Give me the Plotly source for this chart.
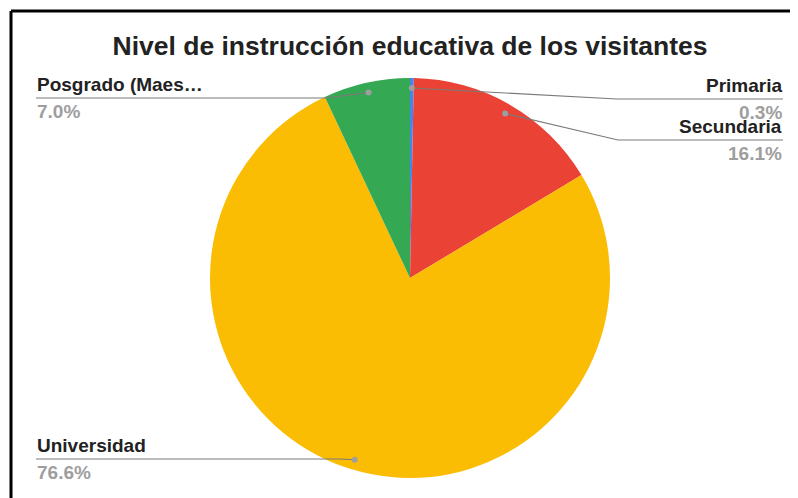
"""Pie chart: education level of visitors (Google Sheets look)."""

import math

import plotly.graph_objects as go

W, H = 798, 498
OFF = 8  # page body margin that shifts the plot inside the window

CATEGORIES = ["Primaria", "Secundaria", "Universidad", "Posgrado (Maestría/Doctorado)"]
DISPLAY_LABELS = ["Primaria", "Secundaria", "Universidad", "Posgrado (Maes…"]
VALUES = [0.3, 16.1, 76.6, 7.0]
COLORS = ["#4285F4", "#EA4335", "#FBBC04", "#34A853"]

# label placement: side, elbow x, line y, end x (window pixels)
LEADERS = [
    ("right", 617, 99, 783),
    ("right", 618, 140, 783),
    ("left", 340, 459, 36),
    ("left", 325, 98, 36),
]

CX, CY, R = 410, 278, 200
FONT = "Liberation Sans, Arial, sans-serif"


def px(x):
    return (x - OFF) / W


def py(y):
    return 1 - (y - OFF) / H


fig = go.Figure(
    go.Pie(
        labels=CATEGORIES,
        values=VALUES,
        sort=False,
        direction="clockwise",
        rotation=0,
        marker=dict(colors=COLORS, line=dict(width=0)),
        textinfo="none",
        hoverinfo="label+percent",
        showlegend=False,
        domain=dict(x=[px(CX - R), px(CX + R)], y=[py(CY + R), py(CY - R)]),
    )
)

shapes = []
annotations = []
total = sum(VALUES)
cum = 0.0
for name, val, (side, ex, ly, endx) in zip(DISPLAY_LABELS, VALUES, LEADERS):
    mid = (cum + val / 2) / total * 2 * math.pi
    cum += val
    dx = CX + 0.95 * R * math.sin(mid)
    dy = CY - 0.95 * R * math.cos(mid)
    shapes.append(dict(
        type="path", xref="paper", yref="paper",
        path=f"M {px(dx)} {py(dy)} L {px(ex)} {py(ly)} L {px(endx)} {py(ly)}",
        line=dict(color="#7a7a7a", width=1.2),
    ))
    shapes.append(dict(
        type="circle", xref="paper", yref="paper",
        x0=px(dx - 3), x1=px(dx + 3), y0=py(dy + 3), y1=py(dy - 3),
        fillcolor="#9e9e9e", line=dict(width=0),
    ))
    anchor = "right" if side == "right" else "left"
    annotations.append(dict(
        xref="paper", yref="paper", x=px(endx), y=py(ly - 2),
        xanchor=anchor, yanchor="bottom", showarrow=False, borderpad=0,
        text=f"<b>{name}</b>", font=dict(family=FONT, size=19, color="#222222"),
    ))
    annotations.append(dict(
        xref="paper", yref="paper", x=px(endx), y=py(ly + 2),
        xanchor=anchor, yanchor="top", showarrow=False, borderpad=0,
        text=f"<b>{val:.1f}%</b>", font=dict(family=FONT, size=19, color="#9e9e9e"),
    ))

# frame: top and left edges of the cropped screenshot
shapes.append(dict(type="line", xref="paper", yref="paper",
                   x0=px(11), x1=1, y0=py(11), y1=py(11),
                   line=dict(color="black", width=3)))
shapes.append(dict(type="line", xref="paper", yref="paper",
                   x0=px(11), x1=px(11), y0=0, y1=py(11),
                   line=dict(color="black", width=3)))

fig.update_layout(
    width=W,
    height=H,
    margin=dict(l=0, r=0, t=0, b=0),
    paper_bgcolor="white",
    plot_bgcolor="white",
    title=dict(
        text="<b>Nivel de instrucción educativa de los visitantes</b>",
        x=px(410), xanchor="center", y=py(46), yanchor="middle",
        font=dict(family=FONT, size=26.5, color="#222222"),
    ),
    shapes=shapes,
    annotations=annotations,
)

fig.write_html("out.html")
